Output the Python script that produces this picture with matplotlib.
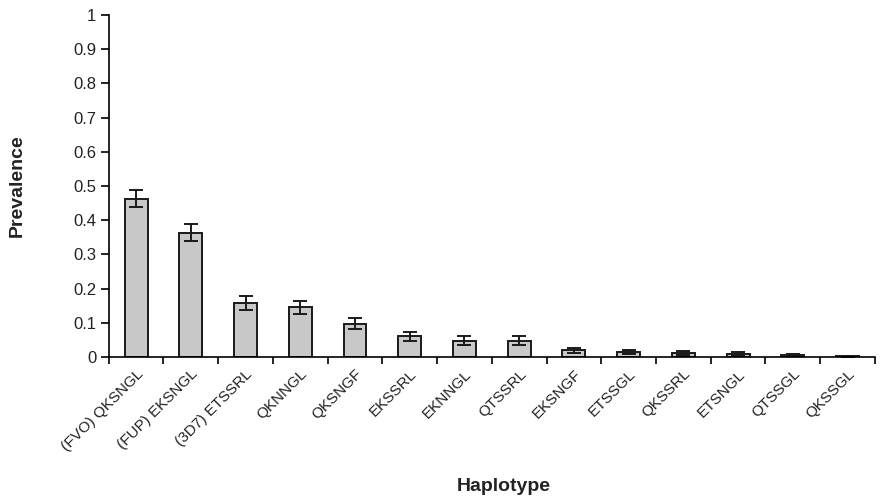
import numpy as np
import matplotlib.pyplot as plt
import matplotlib.transforms as mtransforms
from matplotlib.ticker import FixedLocator

plt.rcParams['font.family'] = ['Liberation Sans', 'DejaVu Sans']

# data
haplotypes = ['(FVO) QKSNGL', '(FUP) EKSNGL', '(3D7) ETSSRL', 'QKNNGL', 'QKSNGF',
              'EKSSRL', 'EKNNGL', 'QTSSRL', 'EKSNGF', 'ETSSGL', 'QKSSRL',
              'ETSNGL', 'QTSSGL', 'QKSSGL']
prevalence = [0.463, 0.363, 0.157, 0.145, 0.097, 0.060, 0.048, 0.048,
              0.020, 0.015, 0.013, 0.010, 0.005, 0.002]
err = [0.025, 0.025, 0.020, 0.019, 0.016, 0.013, 0.012, 0.012,
       0.007, 0.006, 0.006, 0.005, 0.003, 0.001]
yticks = [0, 0.1, 0.2, 0.3, 0.4, 0.5, 0.6, 0.7, 0.8, 0.9, 1]
ytick_labels = ['0', '0.1', '0.2', '0.3', '0.4', '0.5', '0.6', '0.7', '0.8', '0.9', '1']

fig = plt.figure(figsize=(8.91, 5), dpi=100)
ax = fig.add_axes([0.122, 0.286, 0.860, 0.684])

x = np.arange(len(haplotypes))
ax.bar(x, prevalence, width=0.42, color='#c8c8c8', edgecolor='#1a1a1a', linewidth=1.4,
       yerr=err, error_kw=dict(ecolor='#1a1a1a', elinewidth=1.4, capsize=5, capthick=1.4))

ax.set_xlim(-0.5, len(haplotypes) - 0.5)
ax.set_ylim(0, 1)
ax.set_yticks(yticks)
ax.set_yticklabels(ytick_labels, fontsize=12, color='#222222')
ax.set_xticks(x)
ax.set_xticklabels(haplotypes, rotation=45, ha='right', rotation_mode='anchor',
                   fontsize=11, color='#222222')
shift = mtransforms.ScaledTranslation(-2 / 100, 0, fig.dpi_scale_trans)
for lab in ax.get_xticklabels():
    lab.set_transform(lab.get_transform() + shift)
ax.tick_params(axis='x', which='major', length=0, pad=7)
ax.xaxis.set_minor_locator(FixedLocator(np.arange(-0.5, len(haplotypes), 1.0)))
ax.tick_params(axis='x', which='minor', length=5, width=1.2, direction='out')
ax.tick_params(axis='y', length=6, width=1.2, direction='out', pad=3)

for s in ['top', 'right']:
    ax.spines[s].set_visible(False)
for s in ['left', 'bottom']:
    ax.spines[s].set_linewidth(1.2)

ax.set_ylabel('Prevalence', fontsize=14, fontweight='bold', color='#222222')
ax.yaxis.set_label_coords(-0.108, 0.5)
ax.set_xlabel('Haplotype', fontsize=14, fontweight='bold', color='#222222')
ax.xaxis.set_label_coords(0.516, -0.354)

plt.savefig('out.png', dpi=100)
